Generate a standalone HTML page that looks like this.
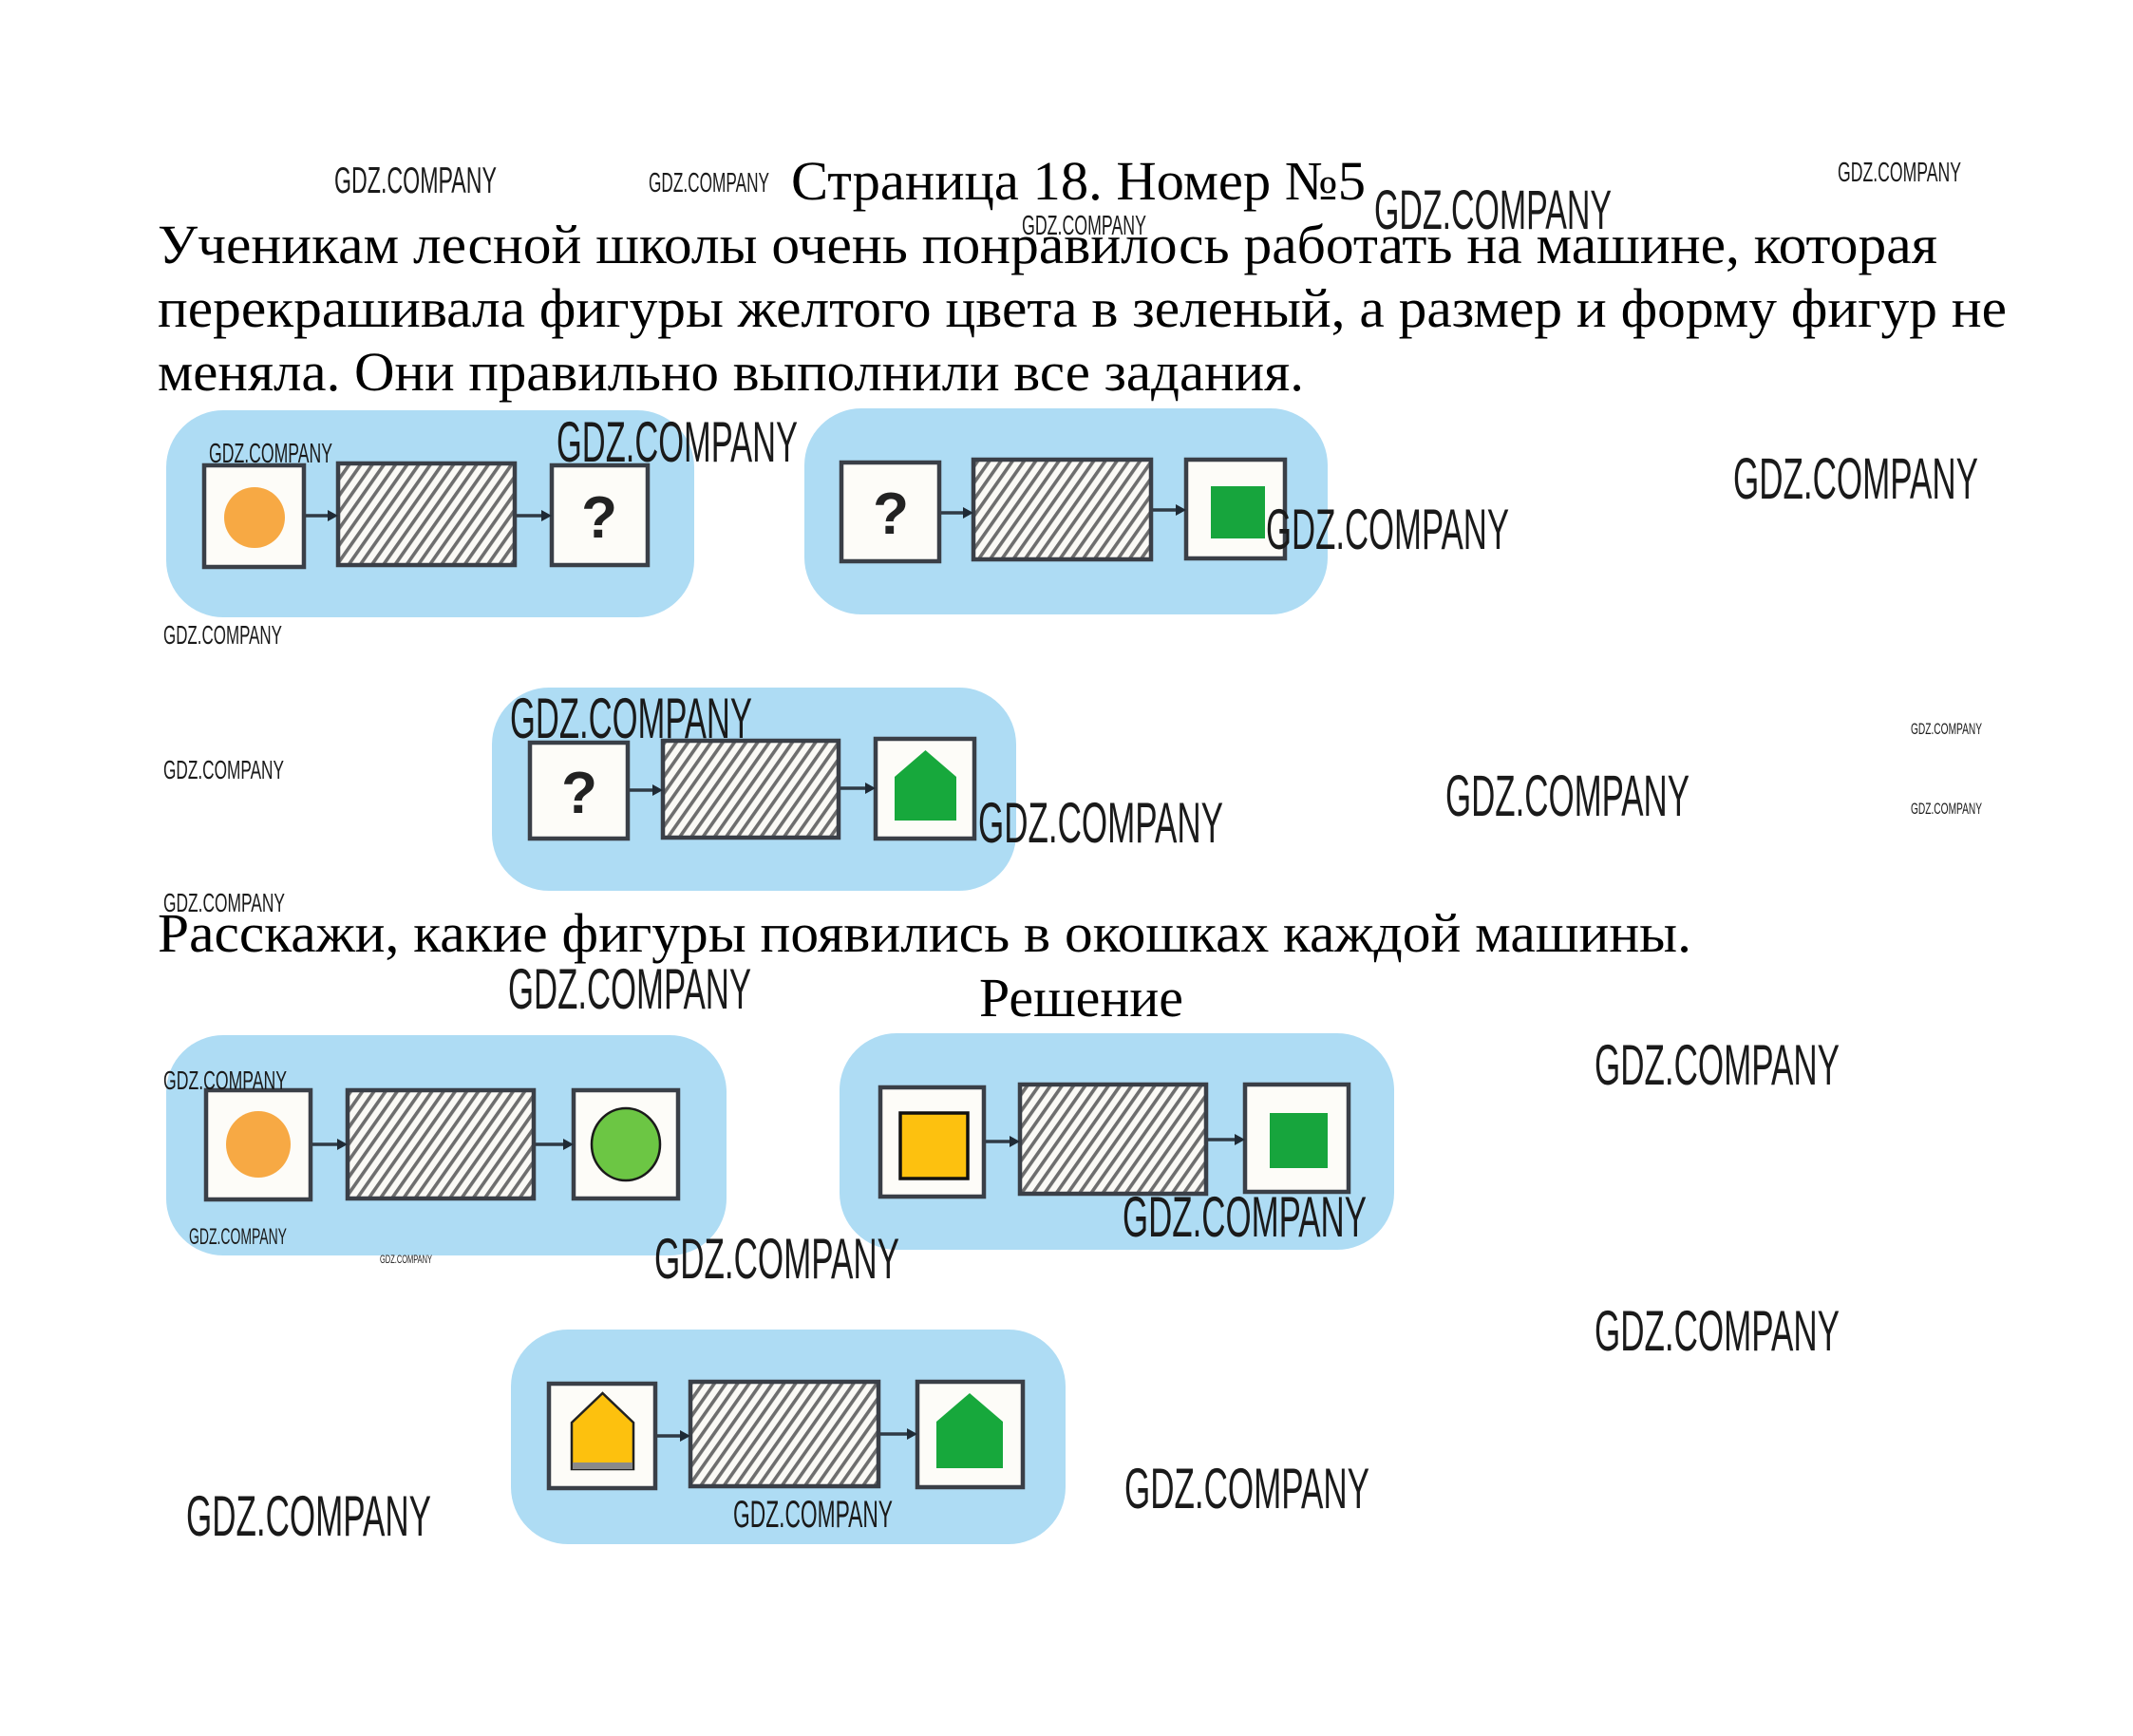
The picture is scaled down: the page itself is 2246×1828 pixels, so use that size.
<!DOCTYPE html>
<html><head><meta charset="utf-8">
<style>
html,body{margin:0;padding:0;background:#fff;}
svg{display:block;}
.t{font-family:"Liberation Serif","Noto Serif CJK SC",serif;fill:#000;}
.w{font-family:"Liberation Sans","DejaVu Sans",sans-serif;fill:#1a1a1a;}
.q{font-family:"Liberation Sans","DejaVu Sans",sans-serif;font-weight:bold;fill:#222;}
</style></head>
<body>
<svg width="2246" height="1828" viewBox="0 0 2246 1828" xmlns="http://www.w3.org/2000/svg">
<defs>
<pattern id="h" patternUnits="userSpaceOnUse" width="10" height="40" patternTransform="rotate(35)">
<rect x="0" y="0" width="10" height="40" fill="#fbfaf6"/>
<rect x="0" y="0" width="3.6" height="40" fill="#6e6e6e"/>
</pattern>
</defs>
<rect width="2246" height="1828" fill="#fff"/>

<!-- Text -->
<text class="t" x="833" y="210" font-size="58" textLength="605" lengthAdjust="spacingAndGlyphs">Страница 18. Номер №5</text>
<text class="t" x="166" y="277" font-size="58" textLength="1874" lengthAdjust="spacingAndGlyphs">Ученикам лесной школы очень понравилось работать на машине, которая</text>
<text class="t" x="166" y="344" font-size="58" textLength="1947" lengthAdjust="spacingAndGlyphs">перекрашивала фигуры желтого цвета в зеленый, а размер и форму фигур не</text>
<text class="t" x="166" y="411" font-size="58" textLength="1207" lengthAdjust="spacingAndGlyphs">меняла. Они правильно выполнили все задания.</text>
<text class="t" x="166" y="1002" font-size="58" textLength="1615" lengthAdjust="spacingAndGlyphs">Расскажи, какие фигуры появились в окошках каждой машины.</text>
<text class="t" x="1031" y="1070" font-size="58" textLength="215" lengthAdjust="spacingAndGlyphs">Решение</text>

<!-- Panels -->
<g fill="#aedcf4">
<rect x="175" y="432" width="556" height="218" rx="60"/>
<rect x="847" y="430" width="551" height="217" rx="60"/>
<rect x="518" y="724" width="552" height="214" rx="60"/>
<rect x="175" y="1090" width="590" height="232" rx="60"/>
<rect x="884" y="1088" width="584" height="228" rx="60"/>
<rect x="538" y="1400" width="584" height="226" rx="60"/>
</g>

<!-- Boxes -->
<g stroke="#3a3f47" stroke-width="4.5">
<!-- P1 -->
<rect x="215" y="490" width="105" height="107" fill="#fdfcf8"/>
<rect x="356" y="488" width="186" height="107" fill="url(#h)"/>
<rect x="581" y="490" width="101" height="105" fill="#fdfcf8"/>
<!-- P2 -->
<rect x="886" y="487" width="103" height="104" fill="#fdfcf8"/>
<rect x="1025" y="484" width="187" height="105" fill="url(#h)"/>
<rect x="1249" y="484" width="104" height="104" fill="#fdfcf8"/>
<!-- P3 -->
<rect x="558" y="782" width="103" height="101" fill="#fdfcf8"/>
<rect x="698" y="780" width="185" height="102" fill="url(#h)"/>
<rect x="922" y="778" width="104" height="105" fill="#fdfcf8"/>
<!-- P4 -->
<rect x="217" y="1148" width="110" height="115" fill="#fdfcf8"/>
<rect x="366" y="1148" width="196" height="114" fill="url(#h)"/>
<rect x="604" y="1148" width="110" height="114" fill="#fdfcf8"/>
<!-- P5 -->
<rect x="927" y="1145" width="109" height="115" fill="#fdfcf8"/>
<rect x="1074" y="1142" width="196" height="115" fill="url(#h)"/>
<rect x="1311" y="1142" width="109" height="113" fill="#fdfcf8"/>
<!-- P6 -->
<rect x="578" y="1457" width="112" height="110" fill="#fdfcf8"/>
<rect x="727" y="1455" width="198" height="110" fill="url(#h)"/>
<rect x="966" y="1455" width="111" height="111" fill="#fdfcf8"/>
</g>

<!-- Arrows -->
<g stroke="#2f3a45" stroke-width="3.5">
<line x1="322" y1="543" x2="348" y2="543"/>
<line x1="544" y1="543" x2="573" y2="543"/>
<line x1="991" y1="540" x2="1017" y2="540"/>
<line x1="1214" y1="537" x2="1241" y2="537"/>
<line x1="663" y1="832" x2="690" y2="832"/>
<line x1="885" y1="830" x2="914" y2="830"/>
<line x1="329" y1="1205" x2="358" y2="1205"/>
<line x1="564" y1="1205" x2="596" y2="1205"/>
<line x1="1038" y1="1202" x2="1066" y2="1202"/>
<line x1="1272" y1="1200" x2="1303" y2="1200"/>
<line x1="692" y1="1512" x2="719" y2="1512"/>
<line x1="927" y1="1510" x2="958" y2="1510"/>
</g>
<g fill="#1f2a35">
<polygon points="356,543 345,537 345,549"/>
<polygon points="581,543 570,537 570,549"/>
<polygon points="1025,540 1014,534 1014,546"/>
<polygon points="1249,537 1238,531 1238,543"/>
<polygon points="698,832 687,826 687,838"/>
<polygon points="922,830 911,824 911,836"/>
<polygon points="366,1205 355,1199 355,1211"/>
<polygon points="604,1205 593,1199 593,1211"/>
<polygon points="1074,1202 1063,1196 1063,1208"/>
<polygon points="1311,1200 1300,1194 1300,1206"/>
<polygon points="727,1512 716,1506 716,1518"/>
<polygon points="966,1510 955,1504 955,1516"/>
</g>

<!-- Shapes -->
<ellipse cx="268" cy="545" rx="32" ry="32" fill="#f7a944"/>
<text class="q" x="631" y="566" font-size="62" text-anchor="middle">?</text>
<text class="q" x="938" y="562" font-size="62" text-anchor="middle">?</text>
<rect x="1275" y="512" width="57" height="55" fill="#17a53d"/>
<text class="q" x="610" y="856" font-size="62" text-anchor="middle">?</text>
<polygon points="942,818 974.5,790 1007,818 1007,864 942,864" fill="#17a83c"/>

<ellipse cx="272" cy="1205" rx="34" ry="35" fill="#f7a944"/>
<ellipse cx="659" cy="1205" rx="36" ry="38" fill="#6cc644" stroke="#1a1a1a" stroke-width="2.5"/>
<rect x="948" y="1172" width="71" height="69" fill="#fdc10f" stroke="#111" stroke-width="3.5"/>
<rect x="1337" y="1172" width="61" height="58" fill="#17a53d"/>

<polygon points="602,1498 634.5,1467 667,1498 667,1547 602,1547" fill="#fdc10e" stroke="#222" stroke-width="2.5"/>
<rect x="603" y="1540" width="63" height="7" fill="#8a8a8a"/>
<polygon points="986,1497 1021,1467 1056,1497 1056,1546 986,1546" fill="#17a83c"/>

<!-- Watermarks -->
<g class="w">
<text x="352" y="203" font-size="39" textLength="171" lengthAdjust="spacingAndGlyphs">GDZ.COMPANY</text>
<text x="683" y="202" font-size="29" textLength="127" lengthAdjust="spacingAndGlyphs">GDZ.COMPANY</text>
<text x="1447" y="241" font-size="58" textLength="250" lengthAdjust="spacingAndGlyphs">GDZ.COMPANY</text>
<text x="1935" y="191" font-size="29" textLength="130" lengthAdjust="spacingAndGlyphs">GDZ.COMPANY</text>
<text x="1076" y="247" font-size="29" textLength="131" lengthAdjust="spacingAndGlyphs">GDZ.COMPANY</text>
<text x="220" y="487" font-size="29" textLength="130" lengthAdjust="spacingAndGlyphs">GDZ.COMPANY</text>
<text x="586" y="486" font-size="60" textLength="254" lengthAdjust="spacingAndGlyphs">GDZ.COMPANY</text>
<text x="1825" y="525" font-size="61" textLength="258" lengthAdjust="spacingAndGlyphs">GDZ.COMPANY</text>
<text x="1333" y="578" font-size="60" textLength="256" lengthAdjust="spacingAndGlyphs">GDZ.COMPANY</text>
<text x="172" y="678" font-size="28" textLength="125" lengthAdjust="spacingAndGlyphs">GDZ.COMPANY</text>
<text x="537" y="777" font-size="60" textLength="255" lengthAdjust="spacingAndGlyphs">GDZ.COMPANY</text>
<text x="172" y="820" font-size="28" textLength="127" lengthAdjust="spacingAndGlyphs">GDZ.COMPANY</text>
<text x="1522" y="859" font-size="61" textLength="257" lengthAdjust="spacingAndGlyphs">GDZ.COMPANY</text>
<text x="2012" y="773" font-size="17" textLength="75" lengthAdjust="spacingAndGlyphs">GDZ.COMPANY</text>
<text x="2012" y="857" font-size="17" textLength="75" lengthAdjust="spacingAndGlyphs">GDZ.COMPANY</text>
<text x="1030" y="887" font-size="60" textLength="258" lengthAdjust="spacingAndGlyphs">GDZ.COMPANY</text>
<text x="172" y="960" font-size="28" textLength="128" lengthAdjust="spacingAndGlyphs">GDZ.COMPANY</text>
<text x="535" y="1062" font-size="60" textLength="256" lengthAdjust="spacingAndGlyphs">GDZ.COMPANY</text>
<text x="1679" y="1142" font-size="60" textLength="258" lengthAdjust="spacingAndGlyphs">GDZ.COMPANY</text>
<text x="172" y="1147" font-size="28" textLength="130" lengthAdjust="spacingAndGlyphs">GDZ.COMPANY</text>
<text x="199" y="1310" font-size="24" textLength="103" lengthAdjust="spacingAndGlyphs">GDZ.COMPANY</text>
<text x="400" y="1330" font-size="12" textLength="55" lengthAdjust="spacingAndGlyphs">GDZ.COMPANY</text>
<text x="689" y="1346" font-size="60" textLength="258" lengthAdjust="spacingAndGlyphs">GDZ.COMPANY</text>
<text x="1182" y="1302" font-size="60" textLength="257" lengthAdjust="spacingAndGlyphs">GDZ.COMPANY</text>
<text x="1679" y="1422" font-size="60" textLength="258" lengthAdjust="spacingAndGlyphs">GDZ.COMPANY</text>
<text x="196" y="1617" font-size="60" textLength="258" lengthAdjust="spacingAndGlyphs">GDZ.COMPANY</text>
<text x="772" y="1608" font-size="40" textLength="168" lengthAdjust="spacingAndGlyphs">GDZ.COMPANY</text>
<text x="1184" y="1588" font-size="60" textLength="258" lengthAdjust="spacingAndGlyphs">GDZ.COMPANY</text>
</g>
</svg>
</body></html>
